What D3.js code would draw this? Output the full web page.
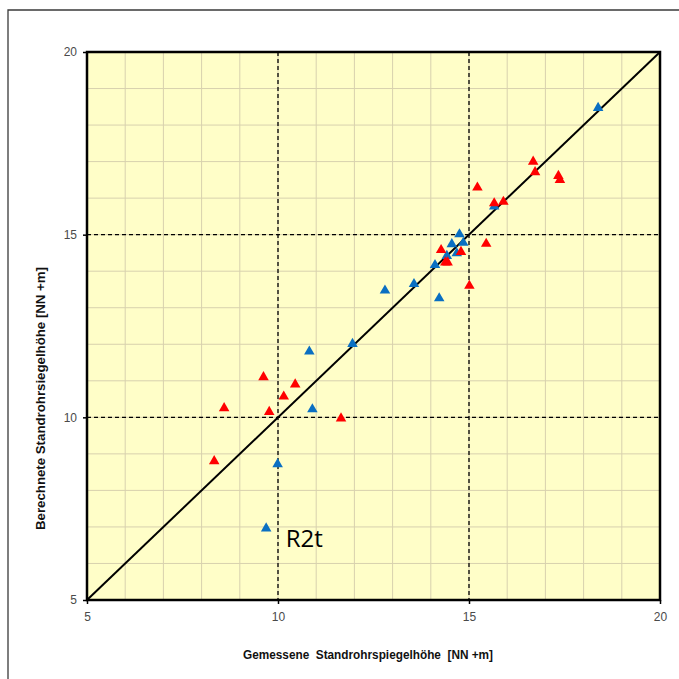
<!DOCTYPE html>
<html>
<head>
<meta charset="utf-8">
<script src="https://cdn.jsdelivr.net/npm/d3@7"></script>
<style>
  html, body { margin: 0; padding: 0; background: #ffffff; }
  svg { display: block; }
</style>
</head>
<body>
<div id="chart"></div>
<script>
// Measured vs. computed standpipe water levels
const axisTicks = [5, 10, 15, 20];
const refLines = [10, 15];

const blueMeasured = [18.38, 15.66, 14.75, 14.85, 14.55, 14.68, 14.42, 14.11, 13.56, 12.80, 14.22, 10.82, 11.95, 10.90, 9.99, 9.69];
const blueComputed = [18.47, 15.77, 15.01, 14.78, 14.74, 14.49, 14.42, 14.17, 13.65, 13.47, 13.26, 11.80, 12.01, 10.22, 8.72, 6.96];

const redMeasured = [16.68, 16.73, 17.34, 17.38, 15.22, 15.66, 15.90, 14.27, 14.79, 15.45, 14.38, 14.44, 15.01, 9.62, 10.45, 10.15, 8.59, 9.77, 11.65, 8.33];
const redComputed = [17.00, 16.71, 16.61, 16.50, 16.29, 15.86, 15.90, 14.58, 14.53, 14.75, 14.24, 14.24, 13.60, 11.10, 10.90, 10.57, 10.25, 10.15, 9.97, 8.80];

const annotation = { text: "R2t", x: 10.2, y: 6.45 };
const xTitle = "Gemessene  Standrohrspiegelhöhe  [NN +m]";
const yTitle = "Berechnete Standrohrsiegelhöhe [NN +m]";

const W = 679, H = 679;
const plot = { left: 87, top: 52, right: 660, bottom: 600 };

const svg = d3.select("#chart").append("svg")
  .attr("width", W).attr("height", H);

// outer frame (only the top and left edges fall inside the view)
svg.append("path")
  .attr("d", `M8,${H} L8,10 L${W},10`)
  .attr("fill", "none").attr("stroke", "#3a3a3a").attr("stroke-width", 1.3);

const x = d3.scaleLinear().domain([5, 20]).range([plot.left, plot.right]);
const y = d3.scaleLinear().domain([5, 20]).range([plot.bottom, plot.top]);

// plot background
svg.append("rect")
  .attr("x", plot.left).attr("y", plot.top)
  .attr("width", plot.right - plot.left).attr("height", plot.bottom - plot.top)
  .attr("fill", "#fffec8");

// minor grid at every unit
const gridVals = d3.range(6, 20);
svg.append("g").selectAll("line.gx").data(gridVals).join("line")
  .attr("x1", d => x(d)).attr("x2", d => x(d))
  .attr("y1", plot.top).attr("y2", plot.bottom)
  .attr("stroke", "#d8d1ae").attr("stroke-width", 1);
svg.append("g").selectAll("line.gy").data(gridVals).join("line")
  .attr("y1", d => y(d)).attr("y2", d => y(d))
  .attr("x1", plot.left).attr("x2", plot.right)
  .attr("stroke", "#d8d1ae").attr("stroke-width", 1);

// dashed reference lines
svg.append("g").selectAll("line").data(refLines).join("line")
  .attr("x1", d => x(d)).attr("x2", d => x(d))
  .attr("y1", plot.top).attr("y2", plot.bottom)
  .attr("stroke", "#000").attr("stroke-width", 1.3).attr("stroke-dasharray", "4,3");
svg.append("g").selectAll("line").data(refLines).join("line")
  .attr("y1", d => y(d)).attr("y2", d => y(d))
  .attr("x1", plot.left).attr("x2", plot.right)
  .attr("stroke", "#000").attr("stroke-width", 1.3).attr("stroke-dasharray", "4,3");

// 1:1 line
svg.append("line")
  .attr("x1", x(5)).attr("y1", y(5)).attr("x2", x(20)).attr("y2", y(20))
  .attr("stroke", "#000").attr("stroke-width", 2);

// markers
const tri = d3.symbol().type(d3.symbolTriangle).size(48);
function drawSeries(xs, ys, color) {
  svg.append("g").selectAll("path").data(xs.map((v, i) => [v, ys[i]])).join("path")
    .attr("d", tri)
    .attr("transform", d => `translate(${x(d[0])},${y(d[1])})`)
    .attr("fill", color);
}
drawSeries(blueMeasured, blueComputed, "#0a6fc2");
drawSeries(redMeasured, redComputed, "#ff0000");

// plot frame
svg.append("rect")
  .attr("x", plot.left).attr("y", plot.top)
  .attr("width", plot.right - plot.left).attr("height", plot.bottom - plot.top)
  .attr("fill", "none").attr("stroke", "#000").attr("stroke-width", 2.5);

// axes
const xAxis = d3.axisBottom(x).tickValues(axisTicks).tickSize(4).tickPadding(8);
const yAxis = d3.axisLeft(y).tickValues(axisTicks).tickSize(4).tickPadding(6);
const gx = svg.append("g").attr("transform", `translate(0,${plot.bottom})`).call(xAxis);
const gy = svg.append("g").attr("transform", `translate(${plot.left},0)`).call(yAxis);
[gx, gy].forEach(g => {
  g.select(".domain").remove();
  g.selectAll(".tick line").attr("stroke", "#000").attr("stroke-width", 1.5);
  g.selectAll(".tick text")
    .attr("fill", "#4a4a4a")
    .style("font-family", "Arial, 'Liberation Sans', sans-serif")
    .style("font-size", "12px");
});

// axis titles
svg.append("text")
  .attr("x", 243).attr("y", 659)
  .attr("textLength", 250).attr("lengthAdjust", "spacingAndGlyphs")
  .style("font-family", "Arial, 'Liberation Sans', sans-serif")
  .style("font-size", "12.5px").style("font-weight", "bold")
  .style("white-space", "pre")
  .attr("fill", "#111")
  .text(xTitle);
svg.append("text")
  .attr("transform", `translate(45,530) rotate(-90)`)
  .attr("textLength", 263).attr("lengthAdjust", "spacingAndGlyphs")
  .style("font-family", "Arial, 'Liberation Sans', sans-serif")
  .style("font-size", "13px").style("font-weight", "bold")
  .attr("fill", "#111")
  .text(yTitle);

// point annotation
svg.append("text")
  .attr("x", x(annotation.x)).attr("y", y(annotation.y))
  .style("font-family", "'Open Sans', sans-serif")
  .style("font-size", "24px")
  .attr("fill", "#000")
  .text(annotation.text);
</script>
</body>
</html>
